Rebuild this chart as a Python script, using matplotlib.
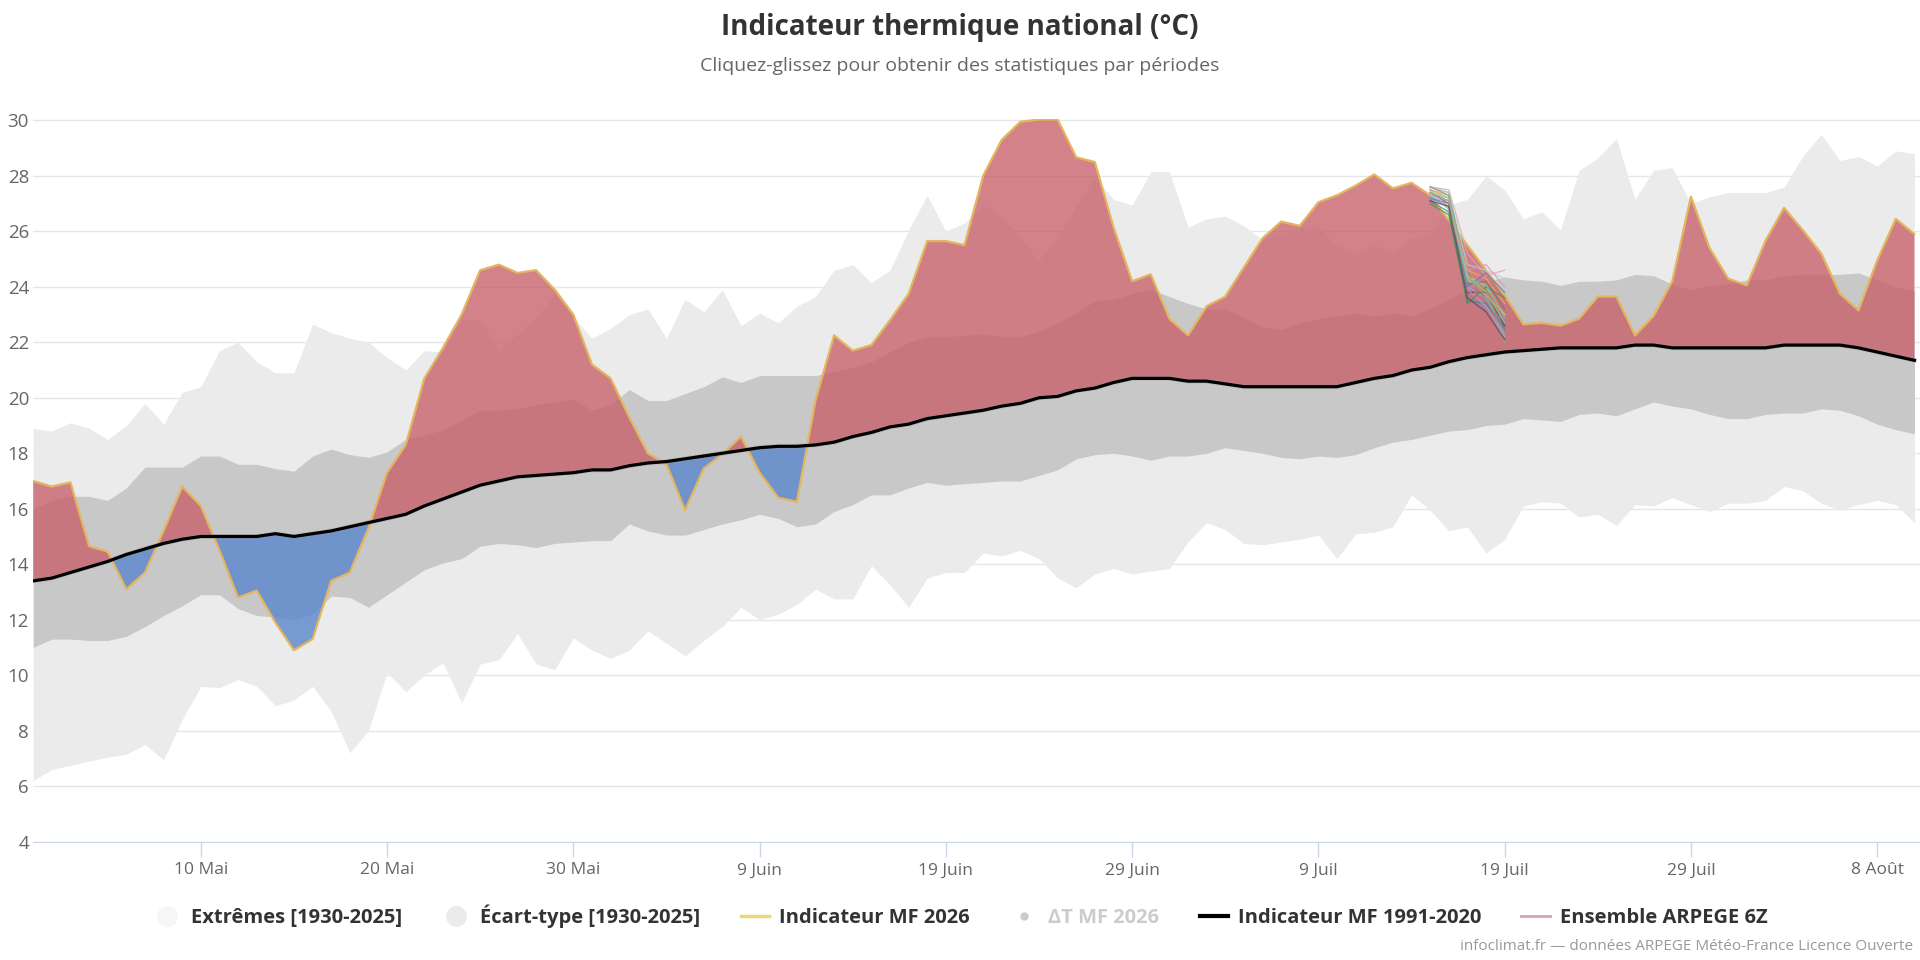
import numpy as np
import pandas as pd
import matplotlib
matplotlib.use("Agg")
import matplotlib.pyplot as plt
from matplotlib.lines import Line2D

# daily values from 1 May 2026 (102 days)
start = "2026-05-01"

extreme_high = [18.9, 18.8, 19.1, 18.9, 18.5, 19.0, 19.8, 19.05, 20.2, 20.4,
                21.7, 22.0, 21.3, 20.9, 20.9, 22.65, 22.35, 22.15, 22.0, 21.45,
                21.0, 21.7, 21.65, 22.8, 22.8, 21.7, 22.3, 22.9, 23.7, 22.9,
                22.15, 22.5, 23.0, 23.2, 22.15, 23.55, 23.1, 23.9, 22.6, 23.05,
                22.7, 23.3, 23.65, 24.6, 24.8, 24.15, 24.6, 26.05, 27.3, 26.0,
                26.3, 26.95, 26.5, 25.75, 24.95, 25.75, 26.9, 27.95, 27.15, 26.95,
                28.15, 28.15, 26.15, 26.45, 26.55, 26.2, 25.7, 25.9, 26.1, 26.15,
                25.5, 25.2, 25.5, 25.2, 25.75, 25.9, 26.95, 27.15, 28.0, 27.5,
                26.45, 26.7, 26.05, 28.2, 28.65, 29.35, 27.15, 28.2, 28.3, 27.0,
                27.25, 27.4, 27.4, 27.4, 27.6, 28.7, 29.5, 28.55, 28.7, 28.35,
                28.9, 28.8]

extreme_low = [6.2, 6.6, 6.75, 6.9, 7.05, 7.15, 7.5, 6.95, 8.4, 9.6,
               9.55, 9.85, 9.6, 8.9, 9.1, 9.6, 8.7, 7.2, 8.0, 10.1,
               9.4, 10.0, 10.45, 9.0, 10.4, 10.55, 11.5, 10.4, 10.2, 11.35,
               10.9, 10.6, 10.9, 11.6, 11.15, 10.7, 11.25, 11.75, 12.45, 12.0,
               12.2, 12.55, 13.1, 12.75, 12.75, 13.95, 13.25, 12.45, 13.5, 13.7,
               13.7, 14.4, 14.3, 14.5, 14.2, 13.5, 13.15, 13.65, 13.85, 13.65,
               13.75, 13.85, 14.8, 15.5, 15.25, 14.75, 14.7, 14.8, 14.9, 15.05,
               14.2, 15.1, 15.15, 15.35, 16.5, 15.95, 15.2, 15.35, 14.4, 14.9,
               16.1, 16.25, 16.2, 15.7, 15.8, 15.4, 16.15, 16.1, 16.4, 16.15,
               15.9, 16.2, 16.2, 16.3, 16.8, 16.65, 16.2, 15.95, 16.15, 16.3,
               16.15, 15.5]

std_high = [16.0, 16.3, 16.45, 16.45, 16.3, 16.75, 17.5, 17.5, 17.5, 17.9,
            17.9, 17.6, 17.6, 17.45, 17.35, 17.9, 18.15, 17.95, 17.85, 18.05,
            18.5, 18.65, 18.85, 19.2, 19.55, 19.55, 19.6, 19.75, 19.85, 19.95,
            19.55, 19.75, 20.3, 19.9, 19.9, 20.15, 20.4, 20.75, 20.55, 20.8,
            20.8, 20.8, 20.8, 20.95, 21.1, 21.3, 21.65, 22.0, 22.2, 22.2,
            22.25, 22.3, 22.2, 22.2, 22.4, 22.7, 23.05, 23.5, 23.55, 23.75,
            23.9, 23.65, 23.4, 23.2, 23.2, 22.9, 22.55, 22.45, 22.7, 22.85,
            22.95, 23.05, 22.95, 23.05, 22.95, 23.2, 23.55, 23.9, 24.2, 24.35,
            24.25, 24.2, 24.05, 24.2, 24.2, 24.25, 24.45, 24.4, 24.1, 23.9,
            24.05, 24.1, 24.25, 24.25, 24.4, 24.45, 24.45, 24.45, 24.5, 24.25,
            24.0, 23.85]

std_low = [11.0, 11.3, 11.3, 11.25, 11.25, 11.4, 11.75, 12.15, 12.5, 12.9,
           12.9, 12.4, 12.15, 12.1, 12.0, 12.2, 12.85, 12.8, 12.45, 12.9,
           13.35, 13.8, 14.05, 14.2, 14.65, 14.75, 14.7, 14.6, 14.75, 14.8,
           14.85, 14.85, 15.45, 15.2, 15.05, 15.05, 15.25, 15.45, 15.6, 15.8,
           15.65, 15.35, 15.45, 15.9, 16.15, 16.5, 16.5, 16.75, 16.95, 16.85,
           16.9, 16.95, 17.0, 17.0, 17.2, 17.4, 17.8, 17.95, 18.0, 17.9,
           17.75, 17.9, 17.9, 18.0, 18.2, 18.1, 18.0, 17.85, 17.8, 17.9,
           17.85, 17.95, 18.2, 18.4, 18.5, 18.65, 18.8, 18.85, 19.0, 19.05,
           19.25, 19.2, 19.15, 19.4, 19.45, 19.35, 19.6, 19.85, 19.7, 19.6,
           19.4, 19.25, 19.25, 19.4, 19.45, 19.45, 19.6, 19.55, 19.35, 19.05,
           18.85, 18.7]

mf_2026 = [17.0, 16.8, 16.95, 14.65, 14.45, 13.1, 13.7, 15.2, 16.8, 16.1,
           14.5, 12.8, 13.05, 11.9, 10.9, 11.3, 13.4, 13.7, 15.3, 17.3,
           18.3, 20.7, 21.8, 23.0, 24.6, 24.8, 24.5, 24.6, 23.9, 23.0,
           21.2, 20.7, 19.3, 18.0, 17.6, 15.95, 17.45, 17.97, 18.6, 17.3,
           16.4, 16.25, 19.9, 22.25, 21.7, 21.9, 22.8, 23.75, 25.65, 25.65,
           25.5, 28.0, 29.3, 29.95, 30.03, 30.03, 28.67, 28.5, 26.15, 24.2,
           24.45, 22.85, 22.25, 23.3, 23.65, 24.7, 25.75, 26.35, 26.2, 27.05,
           27.3, 27.65, 28.05, 27.55, 27.75, 27.3, 26.4, 25.5, 24.6, 23.7,
           22.65, 22.7, 22.6, 22.85, 23.65, 23.65, 22.25, 22.95, 24.2, 27.25,
           25.4, 24.3, 24.05, 25.65, 26.85, 26.05, 25.2, 23.75, 23.15, 24.95,
           26.45, 25.9]

normal_1991_2020 = [13.4, 13.5, 13.7, 13.9, 14.1, 14.35, 14.55, 14.75, 14.9, 15.0,
                    15.0, 15.0, 15.0, 15.1, 15.0, 15.1, 15.2, 15.35, 15.5, 15.65,
                    15.8, 16.1, 16.35, 16.6, 16.85, 17.0, 17.15, 17.2, 17.25, 17.3,
                    17.4, 17.4, 17.55, 17.65, 17.7, 17.8, 17.9, 18.0, 18.1, 18.2,
                    18.25, 18.25, 18.3, 18.4, 18.6, 18.75, 18.95, 19.05, 19.25, 19.35,
                    19.45, 19.55, 19.7, 19.8, 20.0, 20.05, 20.25, 20.35, 20.55, 20.7,
                    20.7, 20.7, 20.6, 20.6, 20.5, 20.4, 20.4, 20.4, 20.4, 20.4,
                    20.4, 20.55, 20.7, 20.8, 21.0, 21.1, 21.3, 21.45, 21.55, 21.65,
                    21.7, 21.75, 21.8, 21.8, 21.8, 21.8, 21.9, 21.9, 21.8, 21.8,
                    21.8, 21.8, 21.8, 21.8, 21.9, 21.9, 21.9, 21.9, 21.8, 21.65,
                    21.5, 21.35]

# ARPEGE 6Z ensemble members, 15 to 19 July
ens_start = "2026-07-15"
ensemble = [
    [27.6, 27.4, 24.2, 23.9, 22.0],
    [27.5, 27.2, 24.0, 23.6, 22.3],
    [27.4, 27.0, 23.8, 23.8, 22.6],
    [27.3, 26.8, 24.4, 24.0, 23.0],
    [27.6, 27.5, 25.2, 24.4, 24.6],
    [27.2, 26.9, 23.6, 23.2, 22.8],
    [27.5, 27.3, 24.6, 24.3, 23.4],
    [27.1, 26.7, 23.5, 23.4, 22.5],
    [27.6, 27.4, 24.8, 24.6, 24.3],
    [27.4, 27.1, 24.1, 24.2, 23.2],
    [27.3, 26.9, 23.9, 23.3, 22.2],
    [27.0, 26.6, 23.4, 24.0, 23.6],
    [27.5, 27.2, 24.3, 23.7, 23.0],
    [27.2, 27.0, 24.0, 24.5, 23.8],
    [27.6, 27.3, 24.5, 23.5, 22.4],
    [27.4, 27.0, 23.7, 23.9, 23.1],
    [27.3, 27.1, 24.2, 24.1, 22.9],
    [27.5, 26.8, 24.6, 24.8, 24.0],
    [27.1, 26.9, 23.6, 23.1, 22.1],
    [27.4, 27.2, 24.4, 23.8, 22.7],
]
ens_colors = ["#6bbf8a", "#7cb5ec", "#434348", "#90ed7d", "#e4a0b0", "#8085e9",
              "#f7a35c", "#2b908f", "#a0d8e0", "#8d6e63", "#b0a0d0", "#4a8f4a",
              "#c0c060", "#5a7fc0", "#888888", "#d07070", "#70c0c0", "#e090c0",
              "#505050", "#a0c878"]

tick_dates = ["2026-05-10", "2026-05-20", "2026-05-30", "2026-06-09", "2026-06-19",
              "2026-06-29", "2026-07-09", "2026-07-19", "2026-07-29", "2026-08-08"]
tick_labels = ["10 Mai", "20 Mai", "30 Mai", "9 Juin", "19 Juin",
               "29 Juin", "9 Juil", "19 Juil", "29 Juil", "8 Août"]

plt.rcParams["font.family"] = ["Open Sans", "DejaVu Sans"]

dates = pd.date_range(start, periods=len(mf_2026), freq="D")
ens_dates = pd.date_range(ens_start, periods=len(ensemble[0]), freq="D")
mf = np.array(mf_2026)
norm = np.array(normal_1991_2020)

fig = plt.figure(figsize=(19.2, 9.6), dpi=100)
ax = fig.add_axes([33.2 / 1920, 1 - 841.6 / 960, 1 - 33.2 / 1920, 722.6 / 960])

ax.fill_between(dates, extreme_low, extreme_high, color="#ebebeb", lw=0, zorder=1)
ax.fill_between(dates, std_low, std_high, color="#c8c8c8", lw=0, zorder=2)
ax.fill_between(dates, norm, mf, where=mf >= norm, interpolate=True,
                color="#c85f69", alpha=0.78, lw=0, zorder=3)
ax.fill_between(dates, norm, mf, where=mf <= norm, interpolate=True,
                color="#5e88cd", alpha=0.82, lw=0, zorder=3)
ax.plot(dates, mf, color="#e3b65e", lw=1.6, zorder=5)
ax.plot(dates, norm, color="#999999", lw=3.4, alpha=0.35, zorder=5)
ax.plot(dates, norm, color="black", lw=2.3, zorder=6)

for member, col in zip(ensemble, ens_colors):
    ax.plot(ens_dates, member, color=col, lw=1, alpha=0.75, zorder=7)

ax.set_ylim(4, 30.05)
ax.set_xlim(dates[0], dates[0] + pd.Timedelta(days=101.3))
ax.set_yticks(np.arange(4, 31, 2))
ax.set_xticks(pd.to_datetime(tick_dates))
ax.set_xticklabels(tick_labels)
ax.grid(axis="y", color="#e6e6e6", lw=1)
ax.set_axisbelow(True)
for side in ["top", "right", "left"]:
    ax.spines[side].set_visible(False)
ax.spines["bottom"].set_color("#ccd6eb")
ax.tick_params(axis="y", length=0, pad=3, labelsize=13.5, labelcolor="#666666")
ax.tick_params(axis="x", length=11, width=1, color="#ccd6eb", pad=4,
               labelsize=12.5, labelcolor="#666666")
ax.patch.set_alpha(0)

fig.text(0.5, 1 - 27 / 960, "Indicateur thermique national (°C)", ha="center",
         va="center", fontsize=20, fontweight="bold", color="#333333")
fig.text(0.5, 1 - 66 / 960, "Cliquez-glissez pour obtenir des statistiques par périodes",
         ha="center", va="center", fontsize=14, color="#666666")
fig.text(1913 / 1920, 1 - 946 / 960,
         "infoclimat.fr — données ARPEGE Météo-France Licence Ouverte",
         ha="right", va="center", fontsize=11, color="#999999")

handles = [
    Line2D([], [], ls="none", marker="o", ms=14, color="#f6f6f6"),
    Line2D([], [], ls="none", marker="o", ms=14, color="#ebebeb"),
    Line2D([], [], color="#ecd77c", lw=2.5),
    Line2D([], [], ls="none", marker="o", ms=5, color="#cccccc"),
    Line2D([], [], color="black", lw=3),
    Line2D([], [], color="#d9a3ad", lw=2),
]
labels = ["Extrêmes [1930-2025]", "Écart-type [1930-2025]", "Indicateur MF 2026",
          "ΔT MF 2026", "Indicateur MF 1991-2020", "Ensemble ARPEGE 6Z"]
leg = fig.legend(handles, labels, loc="center", bbox_to_anchor=(0.5, 1 - 916 / 960),
                 ncol=6, frameon=False, handlelength=1.4, handletextpad=0.5,
                 columnspacing=2.0, prop={"size": 14.5, "weight": "bold"})
for txt in leg.get_texts():
    txt.set_color("#333333")
leg.get_texts()[3].set_color("#cccccc")

fig.savefig("out.png", dpi=100)
